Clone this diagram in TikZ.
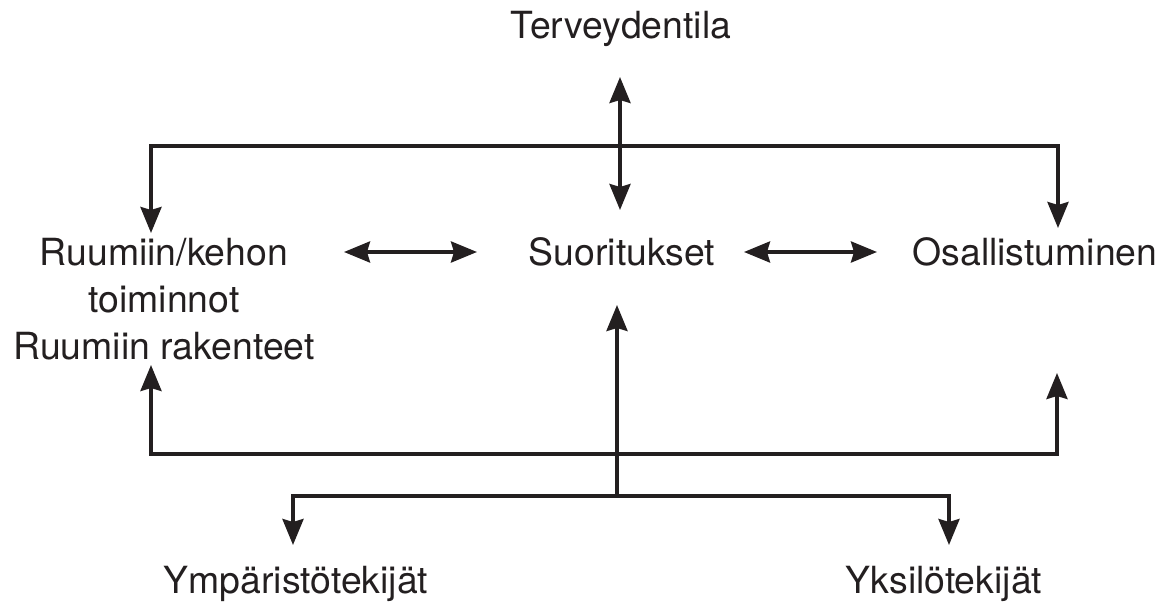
\documentclass[tikz,border=0pt]{standalone}
\usepackage{fontspec}
\setmainfont{TeX Gyre Heros}
\usetikzlibrary{arrows.meta}
\definecolor{ink}{HTML}{231F20}
\begin{document}
\begin{tikzpicture}[x=0.5pt,y=-0.5pt,
  lbl/.style={font=\fontsize{18.7}{23.5}\selectfont, text=ink, inner sep=0pt, anchor=base, align=center},
  conn/.style={draw=ink, line width=1.8pt, line cap=butt, line join=miter},
  tip/.style={-{Stealth[length=13pt,width=10.5pt,inset=1.5pt]}},
  tips/.style={{Stealth[length=13pt,width=10.5pt,inset=1.5pt]}-{Stealth[length=13pt,width=10.5pt,inset=1.5pt]}}]
\useasboundingbox (0,0) rectangle (1162,605);
% labels
\node[lbl] (ter) at (621,39) {Terveydentila};
\node[lbl] (suo) at (622,265) {Suoritukset};
\node[lbl] (osa) at (1035,265) {Osallistuminen};
\node[lbl] (ruu) at (164,359) {Ruumiin/kehon\\toiminnot\\Ruumiin rakenteet};
\node[lbl] (ymp) at (296,593) {Ympäristötekijät};
\node[lbl] (yks) at (944,593) {Yksilötekijät};
% junction and tip coordinates
\coordinate (tA) at (620,77);
\coordinate (tB) at (620,210);
\coordinate (l1) at (151,233);
\coordinate (l2) at (151,146);
\coordinate (r2) at (1058,146);
\coordinate (r1) at (1058,228);
\coordinate (a1) at (344,252);
\coordinate (a2) at (477,252);
\coordinate (b1) at (744,252);
\coordinate (b2) at (877,252);
\coordinate (c1) at (617,497);
\coordinate (c2) at (617,305);
\coordinate (m1) at (151,365);
\coordinate (m2) at (151,454);
\coordinate (m3) at (1057,454);
\coordinate (m4) at (1057,373);
\coordinate (n1) at (293,545);
\coordinate (n2) at (293,496);
\coordinate (n3) at (949,496);
\coordinate (n4) at (949,545);
% connectors
\draw[conn,tips] (tA) -- (tB);
\draw[conn,tips] (l1) -- (l2) -- (r2) -- (r1);
\draw[conn,tips] (a1) -- (a2);
\draw[conn,tips] (b1) -- (b2);
\draw[conn,tip] (c1) -- (c2);
\draw[conn,tips] (m1) -- (m2) -- (m3) -- (m4);
\draw[conn,tips] (n1) -- (n2) -- (n3) -- (n4);
\end{tikzpicture}
\end{document}
